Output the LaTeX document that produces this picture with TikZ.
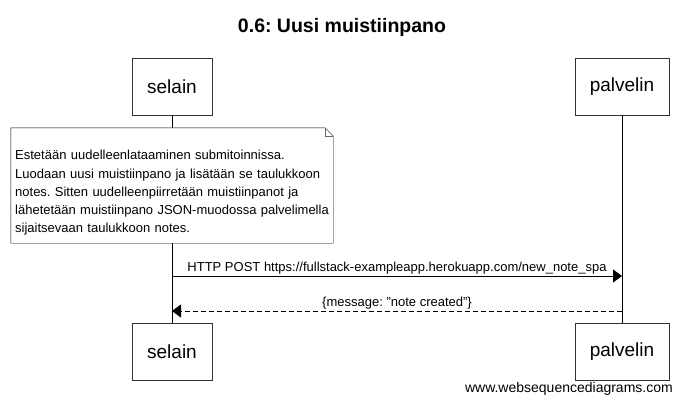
\documentclass[tikz,border=0pt]{standalone}
\usepackage{fontspec}
\setmainfont{Liberation Sans}
\usetikzlibrary{arrows.meta}
\frenchspacing

\begin{document}
\begin{tikzpicture}[x=1pt,y=-1pt,
actorbox/.style={draw=black!80, fill=white, minimum height=57pt, inner sep=0pt, font=\fontsize{19}{23}\selectfont},
notetext/.style={align=left, text width=318pt, inner sep=0pt, anchor=west, font=\fontsize{13}{18.3}\selectfont},
msg/.style={-{Triangle[length=9pt,width=13pt]}},
msglabel/.style={font=\fontsize{13}{15}\selectfont, inner sep=1.5pt},
]
    \useasboundingbox (0,0) rectangle (684,404);

    \node [font=\bfseries\fontsize{19.5}{23}\selectfont] (title) at (342,27) {0.6: Uusi muistiinpano};

    \node [actorbox, minimum width=80pt] (s1) at (172,86.5) {selain};
    \node [actorbox, minimum width=94pt] (p1) at (622,86.5) {palvelin};
    \node [actorbox, minimum width=80pt] (s2) at (172,351.5) {selain};
    \node [actorbox, minimum width=94pt] (p2) at (622,351.5) {palvelin};

    \draw (s1) edge (s2);
    \draw (p1) edge (p2);

    % note with folded corner
    \node [minimum width=322pt, minimum height=115pt, inner sep=0pt] (note) at (172,185.5) {};
    \draw [fill=white] (note.north west) -- ([xshift=-8pt]note.north east) -- ([yshift=-8pt]note.north east) -- (note.south east) -- (note.south west) -- cycle;
    \draw [black!60] ([xshift=-8pt]note.north east) |- ([yshift=-8pt]note.north east);
    \node [notetext] (notetxt) at (15,193) {Estetään uudelleenlataaminen submitoinnissa.\\
    Luodaan uusi muistiinpano ja lisätään se taulukkoon\\
    notes. Sitten uudelleenpiirretään muistiinpanot ja\\
    lähetetään muistiinpano JSON-muodossa palvelimella\\
    sijaitsevaan taulukkoon notes.};

    \coordinate (sa) at (172,276);
    \coordinate (pa) at (622,276);
    \coordinate (sb) at (172,311);
    \coordinate (pb) at (622,311);

    \draw [msg] (sa) -- node [msglabel, above] {HTTP POST https://fullstack-exampleapp.herokuapp.com/new\_note\_spa} (pa);
    \draw [msg, dash pattern=on 5pt off 3pt] (pb) -- node [msglabel, above] {\{message: \symbol{34}note created\symbol{34}\}} (sb);

    \node [font=\fontsize{14}{16}\selectfont, anchor=east, inner sep=0pt] (wsd) at (673,389) {www.websequencediagrams.com};

\end{tikzpicture}
\end{document}
